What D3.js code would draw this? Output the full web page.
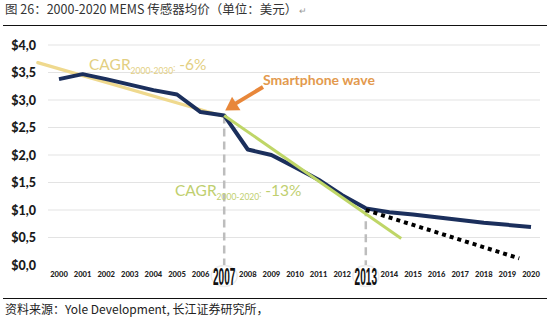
<!DOCTYPE html>
<html>
<head>
<meta charset="utf-8">
<script src="https://cdn.jsdelivr.net/npm/d3@7/dist/d3.min.js"></script>
<style>
  html, body { margin: 0; padding: 0; background: #fff; }
  svg { display: block; }
</style>
</head>
<body>
<svg id="chart" width="550" height="321"></svg>
<script>
// Average MEMS sensor price, USD
const years = [2000, 2001, 2002, 2003, 2004, 2005, 2006, 2007, 2008, 2009, 2010,
               2011, 2012, 2013, 2014, 2015, 2016, 2017, 2018, 2019, 2020];
const avgPrice = [3.38, 3.47, 3.38, 3.28, 3.18, 3.10, 2.78, 2.72, 2.10, 2.00, 1.78,
                  1.55, 1.27, 1.03, 0.96, 0.92, 0.87, 0.82, 0.77, 0.73, 0.69];
const yTicks = [0, 0.5, 1.0, 1.5, 2.0, 2.5, 3.0, 3.5, 4.0];
const yTickLabels = ["$0,0", "$0,5", "$1,0", "$1,5", "$2,0", "$2,5", "$3,0", "$3,5", "$4,0"];
// trend lines: [year, price]
const trendEarly = [[1999.1, 3.68], [2007, 2.70]];
const trendSmartphone = [[2007, 2.72], [2014.5, 0.48]];
const forecastLow = [[2013, 1.00], [2019.5, 0.12]];
const markerYears = [2007, 2013];
const markerTops = [2.72, 1.03];

const svg = d3.select("#chart");
const x = d3.scaleLinear().domain([2000, 2020]).range([59, 531]);
const y = d3.scaleLinear().domain([0, 4]).range([265, 45]);

// title
const title = svg.append("text").attr("x", 5).attr("y", 14)
  .attr("font-family", "'Noto Sans CJK SC', sans-serif").attr("font-size", 12.5)
  .attr("fill", "#333");
title.append("tspan").text("图 26：2000-2020 MEMS 传感器均价（单位：美元）");
title.append("tspan").attr("font-size", 9).attr("fill", "#999").attr("dx", 2).text("↵");
svg.append("line").attr("x1", 3).attr("x2", 547).attr("y1", 25.5).attr("y2", 25.5)
  .attr("stroke", "#111").attr("stroke-width", 1.2);

// gridlines
svg.append("g").selectAll("line").data(yTicks.filter(d => d > 0)).join("line")
  .attr("x1", 48).attr("x2", 540)
  .attr("y1", d => y(d)).attr("y2", d => y(d))
  .attr("stroke", "#e3e3e3").attr("stroke-width", 1);

// y tick labels
svg.append("g").selectAll("text").data(yTicks).join("text")
  .attr("x", 36).attr("y", d => y(d) + 4.5)
  .attr("text-anchor", "end")
  .attr("font-family", "Lato, sans-serif").attr("font-weight", 900)
  .attr("font-size", 12.5).attr("fill", "#1a1a1a")
  .text((d, i) => yTickLabels[i]);

// x tick labels (regular years)
svg.append("g").selectAll("text").data(years.filter(d => !markerYears.includes(d))).join("text")
  .attr("x", d => x(d)).attr("y", 277)
  .attr("text-anchor", "middle")
  .attr("font-family", "Lato, sans-serif").attr("font-weight", 900)
  .attr("font-size", 7.6).attr("fill", "#222")
  .text(d => d);

// highlighted years: soft halo + tall condensed label
const hl = svg.append("g").selectAll("g").data(markerYears).join("g")
  .attr("transform", d => `translate(${x(d)},276)`);
hl.append("ellipse").attr("rx", 13).attr("ry", 10.5)
  .attr("fill", "#fff").attr("stroke", "#ececec").attr("stroke-width", 1.5);
hl.append("text").attr("y", 8.5).attr("text-anchor", "middle")
  .attr("transform", "scale(0.42,1)")
  .attr("font-family", "'Liberation Sans', Arial, sans-serif")
  .attr("font-weight", 700).attr("font-size", 24).attr("fill", "#111")
  .text(d => d);

// dashed markers
svg.append("g").selectAll("line").data(markerYears).join("line")
  .attr("x1", d => x(d)).attr("x2", d => x(d))
  .attr("y1", (d, i) => y(markerTops[i])).attr("y2", 265)
  .attr("stroke", "#bdbdbd").attr("stroke-width", 2.5)
  .attr("stroke-dasharray", "8,5");

const line = d3.line().x(d => x(d[0])).y(d => y(d[1]));

// trend lines
svg.append("path").attr("d", line(trendEarly)).attr("fill", "none")
  .attr("stroke", "#efd98e").attr("stroke-width", 3.2).attr("stroke-linecap", "round");

// price line
svg.append("path").attr("d", d3.line().x((d, i) => x(years[i])).y(d => y(d))(avgPrice))
  .attr("fill", "none").attr("stroke", "#1b2f5c").attr("stroke-width", 4)
  .attr("stroke-linejoin", "round");

svg.append("path").attr("d", line(trendSmartphone)).attr("fill", "none")
  .attr("stroke", "#bfd667").attr("stroke-width", 3).attr("stroke-linecap", "butt");

// forecast
svg.append("path").attr("d", line(forecastLow)).attr("fill", "none")
  .attr("stroke", "#000").attr("stroke-width", 4).attr("stroke-dasharray", "4,4");

// smartphone annotation arrow
const tip = [x(2007) + 1, y(2.72) - 5];
svg.append("line").attr("x1", 263).attr("y1", 87).attr("x2", tip[0] + 9).attr("y2", tip[1] - 6)
  .attr("stroke", "#e8873a").attr("stroke-width", 4);
{
  const ang = Math.atan2(tip[1] - 87, tip[0] - 263);
  const L = 13, W = 8;
  const bx = tip[0] - L * Math.cos(ang), by = tip[1] - L * Math.sin(ang);
  const px = -Math.sin(ang) * W, py = Math.cos(ang) * W;
  svg.append("path")
    .attr("d", `M${tip[0]},${tip[1]}L${bx + px},${by + py}L${bx - px},${by - py}Z`)
    .attr("fill", "#e8873a");
}
svg.append("text").attr("x", 263).attr("y", 85)
  .attr("font-family", "Lato, sans-serif").attr("font-weight", 700)
  .attr("font-size", 14).attr("fill", "#e39a4e").text("Smartphone wave");

// CAGR labels
function cagr(xp, yp, sub, val, color) {
  const t = svg.append("text").attr("x", xp).attr("y", yp)
    .attr("font-family", "Lato, sans-serif").attr("font-weight", 400)
    .attr("fill", color).attr("font-size", 15.5);
  t.append("tspan").text("CAGR");
  t.append("tspan").attr("font-size", 8.5).attr("dy", 4).text(sub);
  t.append("tspan").attr("font-size", 8.5).attr("dy", -3).text(":");
  t.append("tspan").attr("dy", -1).attr("dx", 4).text(val);
}
cagr(89, 70, "2000-2030", "-6%", "#e3cf82");
cagr(175, 196, "2000-2020", "-13%", "#bfcf70");

// source
svg.append("line").attr("x1", 3).attr("x2", 547).attr("y1", 298.5).attr("y2", 298.5)
  .attr("stroke", "#111").attr("stroke-width", 1.2);
svg.append("text").attr("x", 5).attr("y", 314)
  .attr("font-family", "'Noto Sans CJK SC', sans-serif").attr("font-size", 12)
  .attr("fill", "#222").text("资料来源：Yole Development, 长江证券研究所，");
</script>
</body>
</html>
